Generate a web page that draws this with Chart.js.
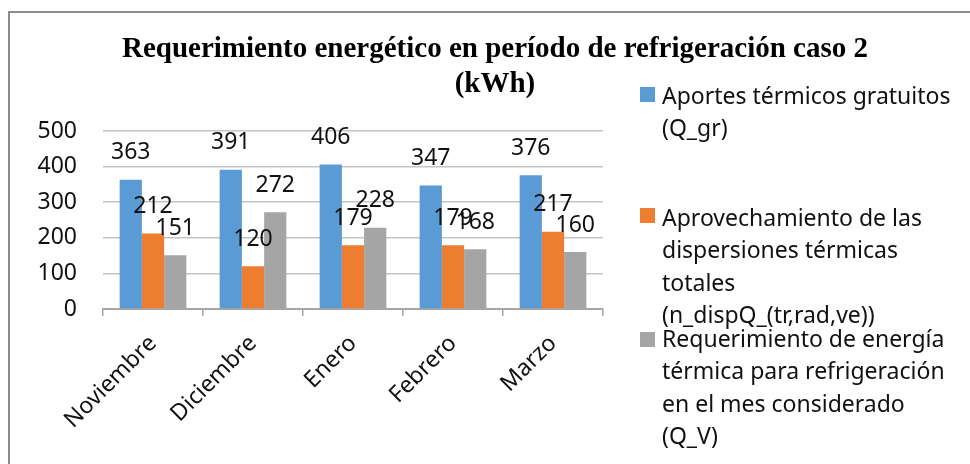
<!DOCTYPE html>
<html>
<head>
<meta charset="utf-8">
<script src="https://cdn.jsdelivr.net/npm/chart.js@4/dist/chart.umd.min.js"></script>
<style>
  html, body { margin: 0; padding: 0; background: #fff; }
  #wrap { position: relative; width: 970px; height: 464px; overflow: hidden; background: #fff; }
  #frame { position: absolute; left: 8px; top: 11px; width: 1000px; height: 500px;
           border-left: 2.5px solid #8c8c8c; border-top: 2.5px solid #8c8c8c; box-sizing: border-box; }
  #title { position: absolute; left: 0; width: 990px; top: 30px; text-align: center;
           font-family: "Liberation Serif", "Times New Roman", serif; font-weight: bold;
           font-size: 29px; line-height: 35px; color: #000; }
  canvas { position: absolute; left: 0; top: 0; }
  .lg { position: absolute; left: 640px; font-family: "Noto Sans", "Open Sans", sans-serif;
        font-size: 23px; line-height: 32.3px; color: #111; white-space: nowrap; }
  .lg .sw { position: absolute; left: 0; width: 15px; height: 15px; }
  .lg .tx { position: absolute; left: 22px; top: 0; }
</style>
</head>
<body>
<div id="wrap">
  <div id="frame"></div>
  <canvas id="c" width="970" height="464"></canvas>
  <div id="title"></div>
  <div id="legend"></div>
</div>
<script>
const categories = ['Noviembre', 'Diciembre', 'Enero', 'Febrero', 'Marzo'];
const aportesGratuitos = [363, 391, 406, 347, 376];
const aprovechamientoDispersiones = [212, 120, 179, 179, 217];
const requerimientoEnergia = [151, 272, 228, 168, 160];
const yTicks = [0, 100, 200, 300, 400, 500];
const titleLines = ['Requerimiento energético en período de refrigeración caso 2', '(kWh)'];
const seriesLabels = [
  ['Aportes térmicos gratuitos', '(Q_gr)'],
  ['Aprovechamiento de las', 'dispersiones térmicas', 'totales', '(n_dispQ_(tr,rad,ve))'],
  ['Requerimiento de energía', 'térmica para refrigeración', 'en el mes considerado', '(Q_V)']
];
const seriesColors = ['#5B9BD5', '#ED7D31', '#A5A5A5'];

document.getElementById('title').innerHTML = titleLines.join('<br>');

const legendTops = [79, 201, 322];
const legendSwatchOffsets = [8, 7, 10];
const legendEl = document.getElementById('legend');
seriesLabels.forEach((lines, i) => {
  const d = document.createElement('div');
  d.className = 'lg';
  d.style.top = legendTops[i] + 'px';
  d.innerHTML = '<div class="sw" style="background:' + seriesColors[i] + ';top:' + legendSwatchOffsets[i] + 'px"></div>' +
                '<div class="tx">' + lines.join('<br>') + '</div>';
  legendEl.appendChild(d);
});

const FONT = "'Noto Sans', 'Open Sans', sans-serif";

const barLabels = {
  id: 'barLabels',
  afterDatasetsDraw(chart) {
    const ctx = chart.ctx;
    ctx.save();
    ctx.font = '23px ' + FONT;
    ctx.fillStyle = '#111';
    ctx.textAlign = 'center';
    ctx.textBaseline = 'middle';
    chart.data.datasets.forEach((ds, di) => {
      const meta = chart.getDatasetMeta(di);
      meta.data.forEach((bar, i) => {
        ctx.fillText(String(ds.data[i]), bar.x, bar.y - 27);
      });
    });
    ctx.restore();
  }
};

new Chart(document.getElementById('c'), {
  type: 'bar',
  data: {
    labels: categories,
    datasets: [
      { label: seriesLabels[0].join(' '), data: aportesGratuitos, backgroundColor: seriesColors[0] },
      { label: seriesLabels[1].join(' '), data: aprovechamientoDispersiones, backgroundColor: seriesColors[1] },
      { label: seriesLabels[2].join(' '), data: requerimientoEnergia, backgroundColor: seriesColors[2] }
    ]
  },
  options: {
    responsive: false,
    animation: false,
    devicePixelRatio: 1,
    layout: { padding: { left: 0, right: 367, top: 131, bottom: 0 } },
    datasets: { bar: { categoryPercentage: 0.667, barPercentage: 1.0 } },
    plugins: {
      legend: { display: false },
      title: { display: false },
      tooltip: { enabled: false }
    },
    scales: {
      x: {
        afterFit(scale) { scale.height = 155; },
        grid: { offset: true, drawOnChartArea: false, drawTicks: true, tickLength: 7, color: '#a6a6a6', lineWidth: 1.5 },
        border: { display: true, color: '#a6a6a6', width: 2 },
        ticks: { minRotation: 45, maxRotation: 45, padding: 14, color: '#111', font: { family: FONT, size: 23 } }
      },
      y: {
        min: 0, max: 500,
        afterFit(scale) { scale.width = 103; },
        afterBuildTicks(scale) { scale.ticks = yTicks.map(v => ({ value: v })); },
        grid: { drawTicks: false, color: '#c4c4c4', lineWidth: 1.5 },
        border: { display: false },
        ticks: { padding: 26, color: '#111', font: { family: FONT, size: 23 } }
      }
    }
  },
  plugins: [barLabels]
});
</script>
</body>
</html>
